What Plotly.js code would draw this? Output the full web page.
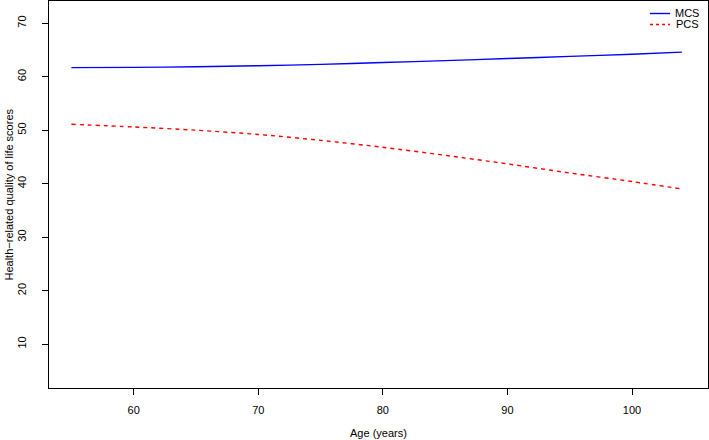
<!DOCTYPE html>
<html>
<head>
<meta charset="utf-8">
<script src="https://cdn.plot.ly/plotly-3.0.1.min.js"></script>
<style>html,body{margin:0;padding:0;background:#fff;}#chart{width:709px;height:440px;}</style>
</head>
<body>
<div id="chart"></div>
<script>
// Data
const ages = [55, 60, 65, 70, 75, 80, 85, 90, 95, 100, 104];
const mcs  = [61.7, 61.75, 61.85, 62.05, 62.3, 62.65, 63.0, 63.4, 63.8, 64.2, 64.6];
const pcs  = [51.1, 50.6, 50.0, 49.2, 48.1, 46.8, 45.3, 43.7, 42.0, 40.4, 39.0];
const seriesNames = ["MCS", "PCS"];
const xTicks = [60, 70, 80, 90, 100];
const yTicks = [10, 20, 30, 40, 50, 60, 70];
const xTitle = "Age (years)";
const yTitle = "Health\u2212related quality of life scores";

const FONT = "Liberation Sans, Arial, Helvetica, sans-serif";
const traces = [
  {x: ages, y: mcs, name: seriesNames[0], type: "scatter", mode: "lines",
   line: {color: "#0000ff", width: 1.4, shape: "spline", smoothing: 0.8}, showlegend: false},
  {x: ages, y: pcs, name: seriesNames[1], type: "scatter", mode: "lines",
   line: {color: "#ff0000", width: 1.4, dash: "4px,4px", shape: "spline", smoothing: 0.8}, showlegend: false}
];

const axisCommon = {
  showgrid: false, zeroline: false, showline: true, mirror: true,
  linecolor: "#000", linewidth: 1, ticks: "outside", ticklen: 6, tickwidth: 1,
  tickcolor: "#000", tickfont: {family: FONT, size: 11, color: "#000"},
  automargin: false
};

const layout = {
  width: 709, height: 440,
  margin: {l: 49, r: 1, t: 1, b: 52, pad: 0},
  paper_bgcolor: "#fff", plot_bgcolor: "#fff",
  font: {family: FONT, size: 11, color: "#000"},
  xaxis: Object.assign({}, axisCommon, {range: [53.2, 106.1], tickvals: xTicks, ticktext: xTicks.map(String), ticklabelstandoff: 6}),
  yaxis: Object.assign({}, axisCommon, {range: [1.8, 74.15], tickvals: yTicks, ticktext: yTicks.map(String), tickangle: -90, ticklabelstandoff: 12}),
  annotations: [
    {text: xTitle, xref: "paper", yref: "paper", x: 0.5, y: 0, yshift: -45, showarrow: false,
     xanchor: "center", yanchor: "middle", font: {family: FONT, size: 11}},
    {text: yTitle, xref: "paper", yref: "paper", x: 0, y: 0.5, xshift: -41, showarrow: false,
     xanchor: "center", yanchor: "middle", textangle: -90, font: {family: FONT, size: 11}},
    {text: seriesNames[0], xref: "paper", yref: "paper", x: 1, y: 1, xshift: -7, yshift: -12, showarrow: false,
     xanchor: "right", yanchor: "middle", font: {family: FONT, size: 11}},
    {text: seriesNames[1], xref: "paper", yref: "paper", x: 1, y: 1, xshift: -7, yshift: -23, showarrow: false,
     xanchor: "right", yanchor: "middle", font: {family: FONT, size: 11}}
  ],
  shapes: [
    {type: "line", xref: "paper", yref: "paper", x0: 601/659, x1: 621/659, y0: 1 - 12.5/387, y1: 1 - 12.5/387,
     line: {color: "#0000ff", width: 1.4}},
    {type: "line", xref: "paper", yref: "paper", x0: 601/659, x1: 621/659, y0: 1 - 23.5/387, y1: 1 - 23.5/387,
     line: {color: "#ff0000", width: 1.4, dash: "3px,3px"}}
  ]
};

Plotly.newPlot("chart", traces, layout, {staticPlot: true, displayModeBar: false});
</script>
</body>
</html>
